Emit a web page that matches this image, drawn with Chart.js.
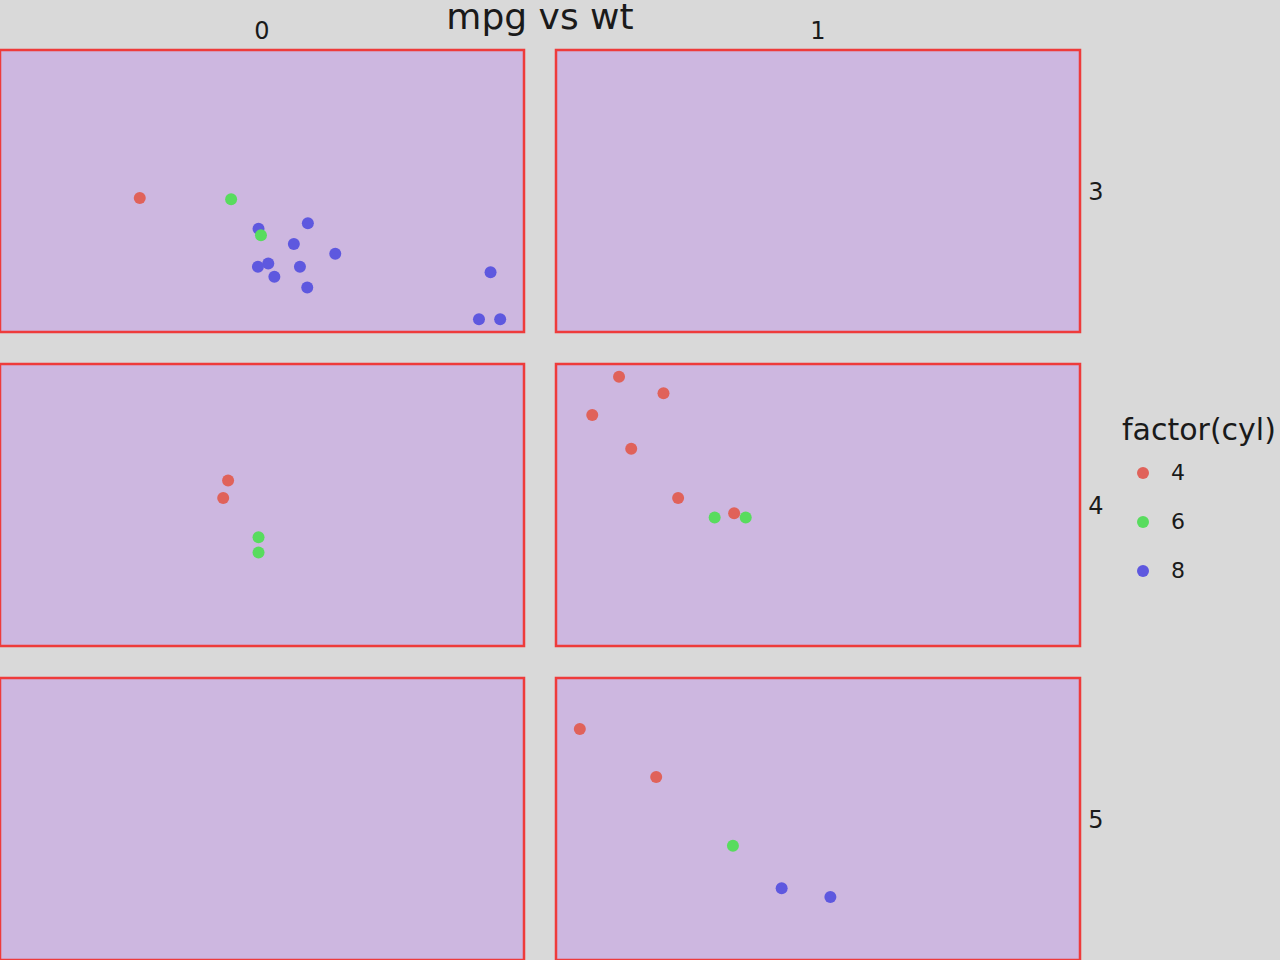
<!DOCTYPE html>
<html>
<head>
<meta charset="utf-8">
<script src="https://cdn.jsdelivr.net/npm/chart.js@4"></script>
<style>
  html, body { margin: 0; padding: 0; width: 1280px; height: 960px; overflow: hidden; background: #d9d9d9; font-family: "DejaVu Sans", sans-serif; color: #1a1a1a; }
  .panel { position: absolute; width: 528px; height: 286px; }
  .txt { position: absolute; white-space: nowrap; line-height: 1; }
  .c { transform: translate(-50%, -50%); }
  .l { transform: translate(0, -50%); }
  .dot { position: absolute; width: 12px; height: 12px; border-radius: 50%; transform: translate(-50%, -50%); }
</style>
</head>
<body>
<div class="txt c" style="left:540px; top:17px; font-size:36px;">mpg vs wt</div>
<div class="txt c" style="left:262px; top:31px; font-size:24px;">0</div>
<div class="txt c" style="left:818px; top:31px; font-size:24px;">1</div>
<div class="txt c" style="left:1096px; top:192px; font-size:24px;">3</div>
<div class="txt c" style="left:1096px; top:506px; font-size:24px;">4</div>
<div class="txt c" style="left:1096px; top:820px; font-size:24px;">5</div>
<div class="txt l" style="left:1122px; top:430px; font-size:30px;">factor(cyl)</div>
<div id="legend"></div>

<div class="panel" style="left:-2px; top:48px;"><canvas id="p0_3"></canvas></div>
<div class="panel" style="left:554px; top:48px;"><canvas id="p1_3"></canvas></div>
<div class="panel" style="left:-2px; top:362px;"><canvas id="p0_4"></canvas></div>
<div class="panel" style="left:554px; top:362px;"><canvas id="p1_4"></canvas></div>
<div class="panel" style="left:-2px; top:676px;"><canvas id="p0_5"></canvas></div>
<div class="panel" style="left:554px; top:676px;"><canvas id="p1_5"></canvas></div>

<script>
// mtcars: weight (1000 lbs), miles per gallon, cylinders, transmission (am), gears
const wt   = [2.620, 2.875, 2.320, 3.215, 3.440, 3.460, 3.570, 3.190, 3.150, 3.440, 3.440, 4.070, 3.730, 3.780, 5.250, 5.424, 5.345, 2.200, 1.615, 1.835, 2.465, 3.520, 3.435, 3.840, 3.845, 1.935, 2.140, 1.513, 3.170, 2.770, 3.570, 2.780];
const mpg  = [21.0, 21.0, 22.8, 21.4, 18.7, 18.1, 14.3, 24.4, 22.8, 19.2, 17.8, 16.4, 17.3, 15.2, 10.4, 10.4, 14.7, 32.4, 30.4, 33.9, 21.5, 15.5, 15.2, 13.3, 19.2, 27.3, 26.0, 30.4, 15.8, 19.7, 15.0, 21.4];
const cyl  = [6, 6, 4, 6, 8, 6, 8, 4, 4, 6, 6, 8, 8, 8, 8, 8, 8, 4, 4, 4, 4, 8, 8, 8, 8, 4, 4, 4, 8, 6, 8, 4];
const am   = [1, 1, 1, 0, 0, 0, 0, 0, 0, 0, 0, 0, 0, 0, 0, 0, 0, 1, 1, 1, 0, 0, 0, 0, 0, 1, 1, 1, 1, 1, 1, 1];
const gear = [4, 4, 4, 3, 3, 3, 3, 4, 4, 4, 4, 3, 3, 3, 3, 3, 3, 4, 4, 4, 3, 3, 3, 3, 3, 4, 5, 5, 5, 5, 5, 4];

const amLevels = [0, 1];
const gearLevels = [3, 4, 5];
const cylLevels = [4, 6, 8];
const cylColors = ['#e0625a', '#58dc5e', '#5e58df'];

// shared scales with 5% expansion like ggplot
const xMin = Math.min(...wt), xMax = Math.max(...wt);
const yMin = Math.min(...mpg), yMax = Math.max(...mpg);
const xPad = (xMax - xMin) * 0.05, yPad = (yMax - yMin) * 0.05;

const panelPlugin = {
  id: 'panelBg',
  beforeDraw(chart) {
    const { ctx, chartArea: a } = chart;
    ctx.save();
    ctx.fillStyle = '#cdb7e0';
    ctx.fillRect(a.left, a.top, a.right - a.left, a.bottom - a.top);
    ctx.restore();
  },
  afterDraw(chart) {
    const { ctx, chartArea: a } = chart;
    ctx.save();
    ctx.strokeStyle = '#ee3b3b';
    ctx.lineWidth = 2.5;
    ctx.strokeRect(a.left, a.top, a.right - a.left, a.bottom - a.top);
    ctx.restore();
  }
};

for (const a of amLevels) {
  for (const g of gearLevels) {
    const datasets = cylLevels.map((c, ci) => {
      const pts = [];
      for (let i = 0; i < wt.length; i++) {
        if (am[i] === a && gear[i] === g && cyl[i] === c) pts.push({ x: wt[i], y: mpg[i] });
      }
      return {
        label: String(c),
        data: pts,
        backgroundColor: cylColors[ci],
        borderWidth: 0,
        pointRadius: 6,
        pointHoverRadius: 6
      };
    });
    new Chart(document.getElementById('p' + a + '_' + g), {
      type: 'scatter',
      data: { datasets },
      options: {
        responsive: true,
        maintainAspectRatio: false,
        animation: false,
        events: [],
        layout: { padding: 2, autoPadding: false },
        plugins: { legend: { display: false }, tooltip: { enabled: false } },
        scales: {
          x: { type: 'linear', display: false, min: xMin - xPad, max: xMax + xPad },
          y: { type: 'linear', display: false, min: yMin - yPad, max: yMax + yPad }
        }
      },
      plugins: [panelPlugin]
    });
  }
}

// legend
const legend = document.getElementById('legend');
const legendY = [473, 522, 571];
cylLevels.forEach((c, i) => {
  const d = document.createElement('div');
  d.className = 'dot';
  d.style.left = '1143px';
  d.style.top = legendY[i] + 'px';
  d.style.background = cylColors[i];
  legend.appendChild(d);
  const t = document.createElement('div');
  t.className = 'txt l';
  t.style.left = '1171px';
  t.style.top = legendY[i] + 'px';
  t.style.fontSize = '22px';
  t.textContent = String(c);
  legend.appendChild(t);
});
</script>
</body>
</html>
